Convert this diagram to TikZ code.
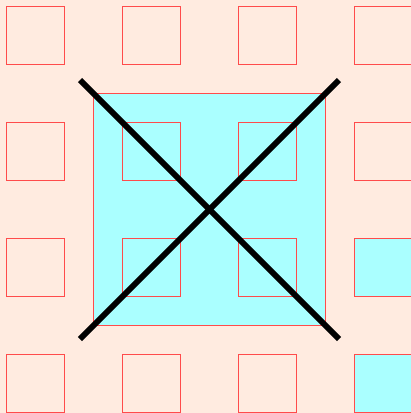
\documentclass[tikz,border=0pt]{standalone}
\definecolor{peach}{HTML}{FFEBE0}
\definecolor{aqua}{HTML}{AAFFFF}
\definecolor{edge}{HTML}{FF4B4B}
\tikzset{
  cell/.style={draw=edge, line width=0.9pt},
  bigsq/.style={draw=edge, fill=aqua, line width=0.9pt},
  cross/.style={draw=black, line width=6pt, line cap=butt}
}
\begin{document}
\begin{tikzpicture}[x=1pt,y=-1pt]
\fill[peach] (0,0) rectangle (411,413);
\useasboundingbox (0,0) rectangle (411,413);
\path[bigsq] (93.5,93.5) rectangle (325.5,325.5);
\foreach \i in {0,1,2,3}{
  \foreach \j in {0,1,2,3}{
    \path[cell] ({6.5+116*\i},{6+116*\j}) rectangle ++(58,58);
  }
}
\path[cell, fill=aqua] (354.5,238) rectangle ++(58,58);
\path[cell, fill=aqua] (354.5,354) rectangle ++(58,58);
\coordinate (a) at (80,80);
\coordinate (b) at (339,339);
\coordinate (c) at (339,80);
\coordinate (d) at (80,339);
\draw[cross] (a) -- (b);
\draw[cross] (c) -- (d);
\end{tikzpicture}
\end{document}
